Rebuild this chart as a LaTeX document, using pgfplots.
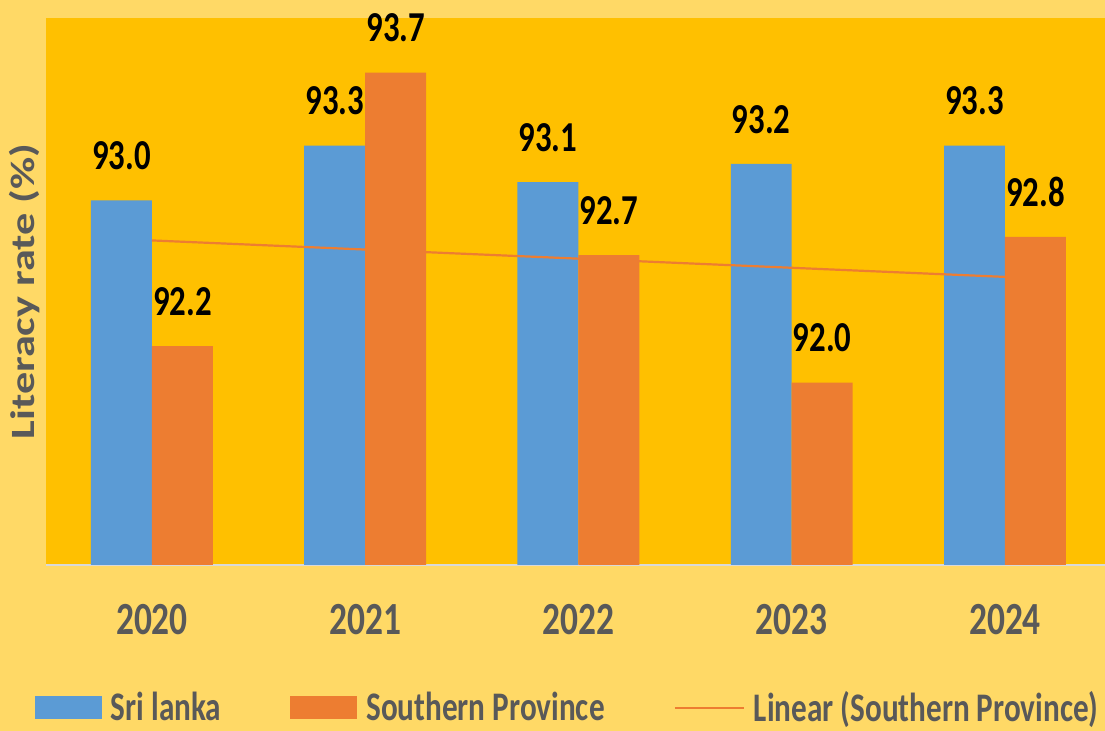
\documentclass[border=0pt]{standalone}
\usepackage{pgfplots}
\usepackage{pgfplotstable}
\pgfplotsset{compat=1.18}
\usepackage{fontspec}
\setmainfont{Carlito}
\definecolor{bgout}{HTML}{FFD966}
\definecolor{plotbg}{HTML}{FFC000}
\definecolor{slblue}{HTML}{5B9BD5}
\definecolor{sporange}{HTML}{ED7D31}
\definecolor{txtgray}{HTML}{595959}
\definecolor{basegray}{HTML}{D9D9D9}
\newcommand{\vs}[1]{\scalebox{1}[1.3]{#1}}

\pgfplotstableread{
x sl sp
0 93.0 92.2
1 93.3 93.7
2 93.1 92.7
3 93.2 92.0
4 93.3 92.8
}\litdata

\begin{document}
\begin{tikzpicture}
\fill[bgout] (0,0) rectangle (552.5pt,365.5pt);
\useasboundingbox (0,0) rectangle (552.5pt,365.5pt);
\begin{axis}[
  at={(23pt,83pt)}, anchor=south west,
  scale only axis, width=529.5pt, height=273.5pt,
  xmin=-0.497, xmax=4.469, ymin=91, ymax=94,
  clip=false,
  axis background/.style={fill=plotbg},
  axis x line*=bottom, axis y line*=left,
  x axis line style={draw=basegray, line width=1pt, -},
  y axis line style={draw=none},
  ytick=\empty,
  xtick={0,1,2,3,4},
  xticklabels={\vs{2020},\vs{2021},\vs{2022},\vs{2023},\vs{2024}},
  major tick length=0pt,
  xticklabel style={font=\fontsize{17.7}{20}\selectfont\bfseries, text=txtgray, yshift=-16pt},
  ylabel={\scalebox{1.3}[1]{Literacy rate (\%)}},
  ylabel style={at={(axis description cs:-0.0198,0.5)}, anchor=center,
    font=\fontsize{17}{19}\selectfont\bfseries, text=txtgray},
  legend columns=3,
  legend style={at={(axis description cs:-0.0104,-0.2614)}, anchor=west,
    draw=none, fill=none, inner sep=0pt, outer sep=0pt,
    nodes={inner sep=0pt, text=txtgray, font=\fontsize{15.6}{18}\selectfont\bfseries},
    /tikz/every odd column/.append style={column sep=4.5pt},
    /tikz/every even column/.append style={column sep=34.5pt}},
  every node near coord/.append style={font=\fontsize{16.4}{18}\selectfont\bfseries,
    text=black, anchor=south, yshift=11.7pt},
]
\addplot[ybar, bar width=0.286, bar shift=-0.143, fill=slblue, draw=none,
  nodes near coords={\vs{\pgfmathprintnumber[fixed,fixed zerofill,precision=1,assume math mode=true]{\pgfplotspointmeta}}},
  every node near coord/.append style={xshift=-15.25pt},
  legend image code/.code={\fill[slblue] (0pt,-5.75pt) rectangle (33.5pt,5.75pt);}]
  table[x=x,y=sl]{\litdata};
\addlegendentry{\vs{Sri lanka}}
\addplot[ybar, bar width=0.286, bar shift=0.143, fill=sporange, draw=none,
  nodes near coords={\vs{\pgfmathprintnumber[fixed,fixed zerofill,precision=1,assume math mode=true]{\pgfplotspointmeta}}},
  every node near coord/.append style={xshift=15.25pt},
  legend image code/.code={\fill[sporange] (0pt,-5.75pt) rectangle (33.5pt,5.75pt);}]
  table[x=x,y=sp]{\litdata};
\addlegendentry{\vs{Southern Province}}
% linear trend of the Southern Province series
\addplot[sporange, line width=1.1pt,
  legend image code/.code={\draw[sporange, line width=1.1pt] (0pt,0pt) -- (34.5pt,0pt);}]
  coordinates {(0,92.78) (4,92.58)};
\addlegendentry{\vs{Linear (Southern Province)}}
\end{axis}
\end{tikzpicture}
\end{document}
